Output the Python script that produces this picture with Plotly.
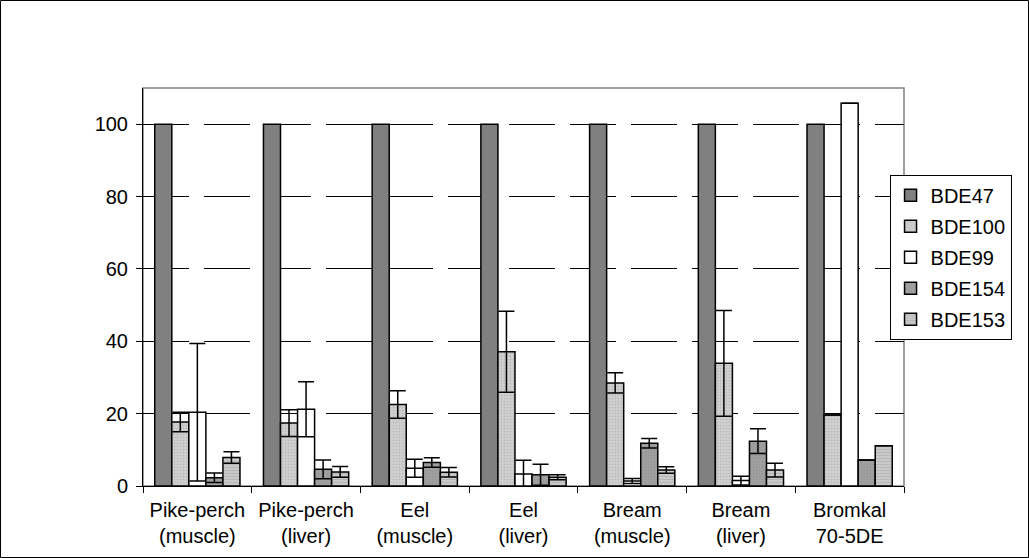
import plotly.graph_objects as go

categories = ["Pike-perch<br>(muscle)", "Pike-perch<br>(liver)", "Eel<br>(muscle)",
              "Eel<br>(liver)", "Bream<br>(muscle)", "Bream<br>(liver)", "Bromkal<br>70-5DE"]

bde47 = [100, 100, 100, 100, 100, 100, 100]
bde100 = [17.7, 17.4, 22.5, 37.1, 28.5, 33.9, 19.6]
bde99 = [20.4, 21.2, 4.9, 3.3, 1.4, 1.5, 105.8]
bde154 = [2.3, 4.6, 6.5, 3.1, 11.8, 12.4, 7.2]
bde153 = [7.9, 3.9, 3.8, 2.4, 4.4, 4.4, 11.1]

err47 = [0, 0, 0, 0, 0, 0, 0]
err100 = [2.7, 3.7, 3.8, 11.2, 2.8, 14.6, 0]
err99 = [19.0, 7.6, 2.5, 3.8, 0.7, 1.2, 0]
err154 = [1.3, 2.6, 1.3, 2.9, 1.3, 3.4, 0]
err153 = [1.6, 1.5, 1.3, 0.7, 0.9, 1.9, 0]

series_names = ["BDE47", "BDE100", "BDE99", "BDE154", "BDE153"]

FONT = "Liberation Sans, Arial, sans-serif"

styles = [
    dict(color="#808080"),
    dict(color="#cfcfcf", pattern=dict(shape=".", fgcolor="#a4a4a4", bgcolor="#d2d2d2", size=3, solidity=0.4)),
    dict(color="#ffffff"),
    dict(color="#9a9a9a", pattern=dict(shape=".", fgcolor="#8c8c8c", bgcolor="#a0a0a0", size=3, solidity=0.3)),
    dict(color="#c0c0c0", pattern=dict(shape="-", fgcolor="#a4a4a4", bgcolor="#cacaca", size=3, solidity=0.4)),
]

values = [bde47, bde100, bde99, bde154, bde153]
errors = [err47, err100, err99, err154, err153]

fig = go.Figure()
for name, vals, errs, st in zip(series_names, values, errors, styles):
    has_err = any(e > 0 for e in errs)
    fig.add_trace(go.Bar(
        name=name, x=categories, y=vals, legendgroup=name,
        marker=dict(line=dict(color="#000000", width=1.5), **st),
        error_y=dict(type="data", array=errs, visible=has_err, color="#000000",
                     thickness=1.5, width=8),
    ))

fig.update_layout(
    width=1029, height=558,
    barmode="group", bargap=0.216, bargroupgap=0,
    paper_bgcolor="white", plot_bgcolor="white",
    margin=dict(l=143, r=125, t=88, b=72),
    font=dict(family=FONT, size=20, color="#000000"),
    showlegend=True,
    legend=dict(x=0.981, y=0.782, xanchor="left", yanchor="top",
                bordercolor="#000000", borderwidth=1, bgcolor="white",
                font=dict(family=FONT, size=20, color="#000000"),
                itemwidth=30, tracegroupgap=2),
    xaxis=dict(type="category", tickson="boundaries", ticks="outside", ticklen=6,
               tickcolor="#000000", showline=True, linecolor="#000000", linewidth=1,
               showgrid=False, ticklabelstandoff=6),
    yaxis=dict(range=[0, 110], dtick=20, tick0=0, ticks="outside", ticklen=6,
               tickcolor="#000000", showline=True, linecolor="#000000", linewidth=1,
               showgrid=True, gridcolor="#000000", gridwidth=1, griddash="46px,15px",
               zeroline=False, ticklabelstandoff=4),
    shapes=[
        dict(type="rect", xref="paper", yref="paper", x0=0, x1=1, y0=0, y1=1,
             line=dict(color="#808080", width=1.5), layer="below"),
        dict(type="rect", xref="paper", yref="paper",
             x0=(0.5 - 143) / 761, x1=(1028.5 - 143) / 761,
             y0=(558 - 72 - 557.5) / 398, y1=(558 - 72 - 0.5) / 398,
             line=dict(color="#000000", width=1), layer="below"),
    ],
)

fig.write_html("out.html", config={"displayModeBar": False},
               post_script="document.body.style.margin='0';document.body.style.overflow='hidden';")
